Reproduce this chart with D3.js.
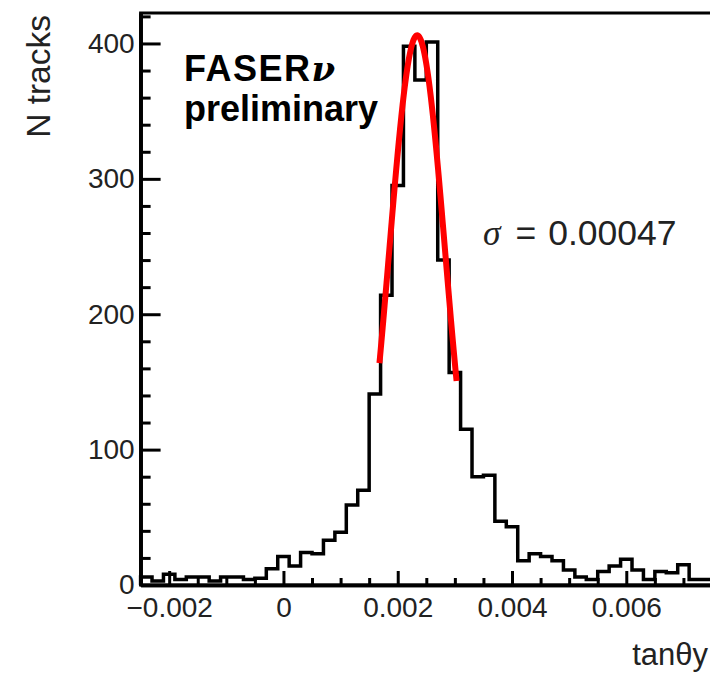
<!DOCTYPE html>
<html>
<head>
<meta charset="utf-8">
<script src="https://cdn.jsdelivr.net/npm/d3@7"></script>
<style>
  body { margin: 0; background: #fff; }
  svg { display: block; }
  .tick text { font-family: "Liberation Sans", Arial, sans-serif; font-size: 28px; fill: #222; }
</style>
</head>
<body>
<div id="chart"></div>
<script>
// histogram of tan(theta_y), bins of 0.0002
var binLow = [
  -0.0025, -0.0023, -0.0021, -0.0019, -0.0017, -0.0015, -0.0013, -0.0011, -0.0009, -0.0007,
  -0.0005, -0.0003, -0.0001, 0.0001, 0.0003, 0.0005, 0.0007, 0.0009, 0.0011, 0.0013,
  0.0015, 0.0017, 0.0019, 0.0021, 0.0023, 0.0025, 0.0027, 0.0029, 0.0031, 0.0033,
  0.0035, 0.0037, 0.0039, 0.0041, 0.0043, 0.0045, 0.0047, 0.0049, 0.0051, 0.0053,
  0.0055, 0.0057, 0.0059, 0.0061, 0.0063, 0.0065, 0.0067, 0.0069, 0.0071, 0.0073
];
var binWidth = 0.0002;
var counts = [
  6, 3, 8, 4, 6, 6, 3, 6, 6, 4,
  5, 12, 21, 14, 24, 23, 33, 39, 59, 70,
  141, 214, 295, 398, 373, 401, 240, 157, 115, 80,
  81, 47, 43, 18, 23, 21, 18, 11, 6, 4,
  10, 14, 19, 11, 4, 10, 9, 15, 4, 4
];

// gaussian fit as drawn: constant, mean, sigma
var fitParams = [406, 0.00234, 0.00049];
var fitRange = [0.00168, 0.00303];

var xMajor = [-0.002, 0, 0.002, 0.004, 0.006];
var yMajor = [0, 100, 200, 300, 400];

var svgWidth = 710, svgHeight = 675;
var frameL = 140.6, frameR = 712, frameT = 13, frameB = 585;

var svg = d3.select("#chart").append("svg")
  .attr("width", svgWidth)
  .attr("height", svgHeight);

var x = d3.scaleLinear().domain([-0.0025, 0.0075]).range([frameL, frameR]);
var y = d3.scaleLinear().domain([0, 422.5]).range([frameB, frameT]);

// minor ticks
var xMinor = d3.range(-0.0025, 0.0076, 0.0005).filter(function(v) {
  return xMajor.every(function(m) { return Math.abs(m - v) > 1e-9; });
});
var yMinor = d3.range(0, 421, 20).filter(function(v) { return v % 100 !== 0; });

// frame (top + right)
svg.append("rect")
  .attr("x", frameL).attr("y", frameT)
  .attr("width", frameR - frameL).attr("height", frameB - frameT)
  .attr("fill", "none").attr("stroke", "#000").attr("stroke-width", 3);

// histogram outline
var pts = [[x(binLow[0]), y(0)]];
counts.forEach(function(c, i) {
  pts.push([x(binLow[i]), y(c)]);
  pts.push([x(binLow[i] + binWidth), y(c)]);
});
pts.push([x(binLow[binLow.length - 1] + binWidth), y(0)]);

svg.append("path")
  .attr("d", d3.line()(pts))
  .attr("fill", "none")
  .attr("stroke", "#000")
  .attr("stroke-width", 3.5)
  .attr("stroke-linejoin", "miter");

// axes
var xAxisMinor = d3.axisBottom(x).tickValues(xMinor).tickSize(-7).tickSizeOuter(0).tickFormat("");
var xAxis = d3.axisBottom(x).tickValues(xMajor).tickSize(-14).tickSizeOuter(0).tickPadding(12)
  .tickFormat(function(d) { return d === 0 ? "0" : d3.format(".3f")(d); });
var yAxisMinor = d3.axisLeft(y).tickValues(yMinor).tickSize(-10).tickSizeOuter(0).tickFormat("");
var yAxis = d3.axisLeft(y).tickValues(yMajor).tickSize(-20).tickSizeOuter(0).tickPadding(6);

svg.append("g").attr("transform", "translate(0," + frameB + ")").call(xAxisMinor);
svg.append("g").attr("class", "xAxis").attr("transform", "translate(0," + frameB + ")").call(xAxis);
svg.append("g").attr("transform", "translate(" + frameL + ",0)").call(yAxisMinor);
svg.append("g").attr("class", "yAxis").attr("transform", "translate(" + frameL + ",0)").call(yAxis);

svg.selectAll(".domain").attr("stroke", "#000").attr("stroke-width", 3.5);
svg.selectAll(".tick line").attr("stroke", "#000").attr("stroke-width", 3);

// gaussian fit line
var fitX = d3.range(fitRange[0], fitRange[1] + 1e-9, (fitRange[1] - fitRange[0]) / 120);
var gauss = function(v) {
  var t = (v - fitParams[1]) / fitParams[2];
  return fitParams[0] * Math.exp(-0.5 * t * t);
};
svg.append("path")
  .datum(fitX)
  .attr("d", d3.line().x(function(d) { return x(d); }).y(function(d) { return y(gauss(d)); }))
  .attr("fill", "none")
  .attr("stroke", "#ff0000")
  .attr("stroke-width", 6)
  .attr("stroke-linecap", "butt");

// labels
svg.append("text")
  .attr("transform", "translate(50,15)rotate(-90)")
  .attr("text-anchor", "end")
  .attr("font-family", "Liberation Sans, Arial, sans-serif")
  .attr("font-size", 33.5)
  .attr("fill", "#222")
  .text("N tracks");

svg.append("text")
  .attr("x", 708).attr("y", 665)
  .attr("text-anchor", "end")
  .attr("font-family", "Liberation Sans, Arial, sans-serif")
  .attr("font-size", 31)
  .attr("fill", "#222")
  .text("tanθy");

var faser = svg.append("text")
  .attr("x", 184).attr("y", 81)
  .attr("font-family", "Liberation Sans, Arial, sans-serif")
  .attr("font-weight", "bold")
  .attr("font-size", 36)
  .attr("fill", "#000");
faser.append("tspan").attr("letter-spacing", 1.5).text("FASER");
faser.append("tspan")
  .attr("font-family", "DejaVu Serif, serif")
  .attr("font-style", "italic")
  .attr("font-size", 34)
  .text("ν");

svg.append("text")
  .attr("x", 184).attr("y", 121)
  .attr("font-family", "Liberation Sans, Arial, sans-serif")
  .attr("font-weight", "bold")
  .attr("font-size", 36)
  .attr("fill", "#000")
  .text("preliminary");

var sig = svg.append("text")
  .attr("x", 483).attr("y", 245)
  .attr("font-family", "Liberation Sans, Arial, sans-serif")
  .attr("font-size", 35.5)
  .attr("fill", "#222");
sig.append("tspan")
  .attr("font-family", "Liberation Serif, serif")
  .attr("font-style", "italic")
  .text("σ");
sig.append("tspan").attr("dx", 15).text("=");
sig.append("tspan").attr("dx", 12).text("0.00047");
</script>
</body>
</html>
